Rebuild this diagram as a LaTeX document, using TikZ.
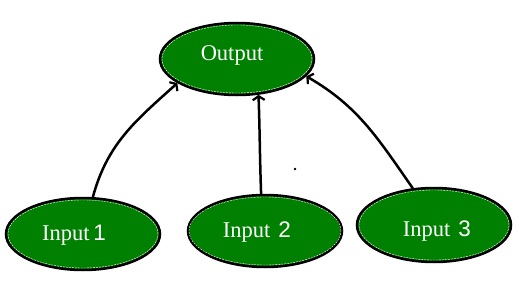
\documentclass[tikz,border=0pt]{standalone}
\usepackage{fontspec}
\setmainfont{Liberation Serif}
\newfontfamily\digitfont{Liberation Sans}
\usetikzlibrary{shapes.geometric,arrows.meta}
\tikzset{
  blob/.style={ellipse, draw=black, line width=2.5pt, fill=green!50!black,
    minimum width=154pt, minimum height=72pt, inner sep=0pt},
  lbl/.style={text=white, inner sep=0pt, font=\fontsize{22.5}{25}\selectfont},
  inner/.style={draw=white, dashed, dash pattern=on 2pt off 1pt, line width=0.4pt},
  link/.style={line width=2.5pt, -{Straight Barb[length=4pt,width=12pt,line width=2.2pt]}},
}
\begin{document}
\begin{tikzpicture}[x=1pt,y=1pt]
\useasboundingbox (0,0) rectangle (520,306);
\node[blob] (out) at (237,247) {};
\node[blob] (i1) at (83,72) {};
\node[blob] (i2) at (265,75) {};
\node[blob, minimum height=74pt] (i3) at (434,81) {};
\foreach \n/\w/\h in {out/75/34, i1/75/34, i2/76/34, i3/75/35}
  \draw[inner] (\n.center) ellipse (\w pt and \h pt);
\node[lbl] (tout) at (232,251) {Output};
\node[lbl] (t1) at (74,71) {Input\,{\digitfont 1}};
\node[lbl] (t2) at (257,74) {Input\hspace{8pt}{\digitfont 2}};
\node[lbl] (t3) at (437,75) {Input\hspace{8pt}{\digitfont 3}};
\draw[link] (i1.75) to[out=75,in=-138] (out.202);
\draw[link] (i2.96) to[out=92,in=-88] (out.301);
\draw[link] (i3.120) to[out=125,in=-30] (out.346);
\fill (295,137) circle (1.3pt);
\end{tikzpicture}
\end{document}
